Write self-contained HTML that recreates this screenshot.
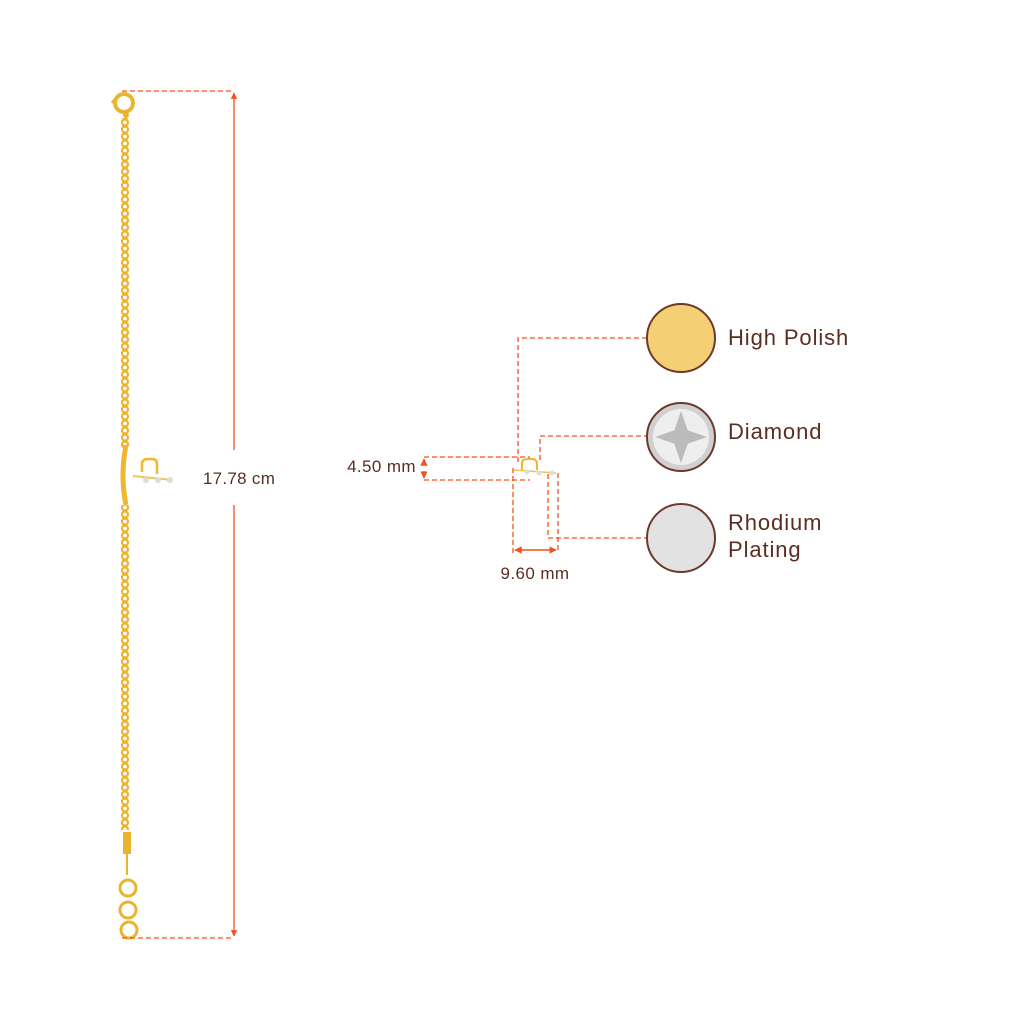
<!DOCTYPE html>
<html><head><meta charset="utf-8"><style>
body{margin:0;background:#fff}
svg{display:block}
text{font-family:"Liberation Sans",sans-serif;fill:#5a2e22}
</style></head><body>
<svg width="1024" height="1024" viewBox="0 0 1024 1024" xmlns="http://www.w3.org/2000/svg">
<defs>
<pattern id="ch" x="0" y="0" width="10" height="7" patternUnits="userSpaceOnUse">
<circle cx="5" cy="3.5" r="3" fill="none" stroke="#ecb22c" stroke-width="2.2"/>
</pattern>
<marker id="ar" viewBox="0 0 10 10" refX="9" refY="5" markerWidth="5" markerHeight="5" orient="auto-start-reverse"><path d="M0,0L10,5L0,10z" fill="#f4511e"/></marker>
</defs>
<!-- chain -->
<rect x="121" y="118" width="10" height="330" fill="url(#ch)"/>
<rect x="121" y="505" width="10" height="325" fill="url(#ch)"/>
<!-- lobster clasp -->
<circle cx="124" cy="103" r="9" fill="none" stroke="#e9b531" stroke-width="4"/>
<path d="M116,98 L112,103" stroke="#e9b531" stroke-width="3"/>
<circle cx="126" cy="115" r="3" fill="#e9b531"/>
<!-- center piece -->
<path d="M126,445 Q120,476 126,505" fill="none" stroke="#f0b82e" stroke-width="5"/>
<path d="M142,472 L142,464 Q142,459 148,459 L152,459 Q157,459 157,464 L157,474" fill="none" stroke="#f0b82e" stroke-width="2.5"/>
<line x1="133" y1="476" x2="172" y2="480" stroke="#f0c550" stroke-width="2"/>
<circle cx="146" cy="480" r="3" fill="#ddd"/><circle cx="158" cy="480" r="3" fill="#ddd"/><circle cx="170" cy="480" r="3" fill="#ddd"/>
<!-- bottom extender -->
<rect x="123" y="832" width="8" height="22" fill="#e9b531"/>
<line x1="127" y1="854" x2="127" y2="875" stroke="#e9b531" stroke-width="2"/>
<circle cx="128" cy="888" r="8" fill="none" stroke="#e9b531" stroke-width="3"/>
<circle cx="128" cy="910" r="8" fill="none" stroke="#e9b531" stroke-width="3"/>
<circle cx="129" cy="930" r="8" fill="none" stroke="#e9b531" stroke-width="3"/>
<!-- length dim -->
<g stroke="#f4511e" stroke-width="1.3" fill="none">
<line x1="122" y1="91" x2="234" y2="91" stroke-dasharray="5,3"/>
<line x1="122" y1="938" x2="234" y2="938" stroke-dasharray="5,3"/>
<line x1="234" y1="450" x2="234" y2="93" marker-end="url(#ar)"/>
<line x1="234" y1="505" x2="234" y2="936" marker-end="url(#ar)"/>
</g>
<text x="239" y="484" font-size="17" text-anchor="middle" letter-spacing="0.3">17.78 cm</text>
<!-- small pendant -->
<path d="M522,470 L522,463 Q522,459 527,459 L532,459 Q537,459 537,464 L537,470" fill="none" stroke="#f0b82e" stroke-width="2"/>
<line x1="514" y1="470" x2="556" y2="473" stroke="#f0c550" stroke-width="1.5"/>
<circle cx="527" cy="472" r="2.5" fill="#ddd"/><circle cx="539" cy="473" r="2.5" fill="#ddd"/><circle cx="552" cy="473" r="2.5" fill="#ddd"/>
<!-- connectors -->
<g stroke="#f4511e" stroke-width="1.3" fill="none" stroke-dasharray="5,3">
<polyline points="518,462 518,338 647,338"/>
<polyline points="540,460 540,436 647,436"/>
<polyline points="548,474 548,538 647,538"/>
<line x1="424" y1="457" x2="530" y2="457"/>
<line x1="424" y1="480" x2="530" y2="480"/>
<line x1="513" y1="468" x2="513" y2="553"/>
<line x1="558" y1="473" x2="558" y2="553"/>
</g>
<g stroke="#f4511e" stroke-width="1.5">
<line x1="424" y1="465" x2="424" y2="459" marker-end="url(#ar)"/>
<line x1="424" y1="471" x2="424" y2="478" marker-end="url(#ar)"/>
<line x1="535" y1="550" x2="515" y2="550" marker-end="url(#ar)"/>
<line x1="535" y1="550" x2="556" y2="550" marker-end="url(#ar)"/>
</g>
<text x="416" y="472" font-size="17" text-anchor="end" letter-spacing="0.4">4.50 mm</text>
<text x="535" y="579" font-size="17" text-anchor="middle" letter-spacing="0.4">9.60 mm</text>
<!-- swatches -->
<circle cx="681" cy="338" r="34" fill="#f5cf73" stroke="#6b3a2a" stroke-width="2"/>
<circle cx="681" cy="437" r="34" fill="#d0d0d0" stroke="#6b3a2a" stroke-width="2"/>
<circle cx="681" cy="437" r="28" fill="#eee"/>
<path d="M681,411 L690,437 L681,463 L672,437z M655,437 L681,428 L707,437 L681,446z" fill="#9a9a9a" opacity="0.6"/>
<circle cx="681" cy="538" r="34" fill="#e2e2e2" stroke="#6b3a2a" stroke-width="2"/>
<text x="728" y="345" font-size="22" letter-spacing="0.9">High Polish</text>
<text x="728" y="439" font-size="22" letter-spacing="0.9">Diamond</text>
<text x="728" y="530" font-size="22" letter-spacing="0.9">Rhodium</text>
<text x="728" y="557" font-size="22" letter-spacing="0.9">Plating</text>
</svg>
</body></html>
